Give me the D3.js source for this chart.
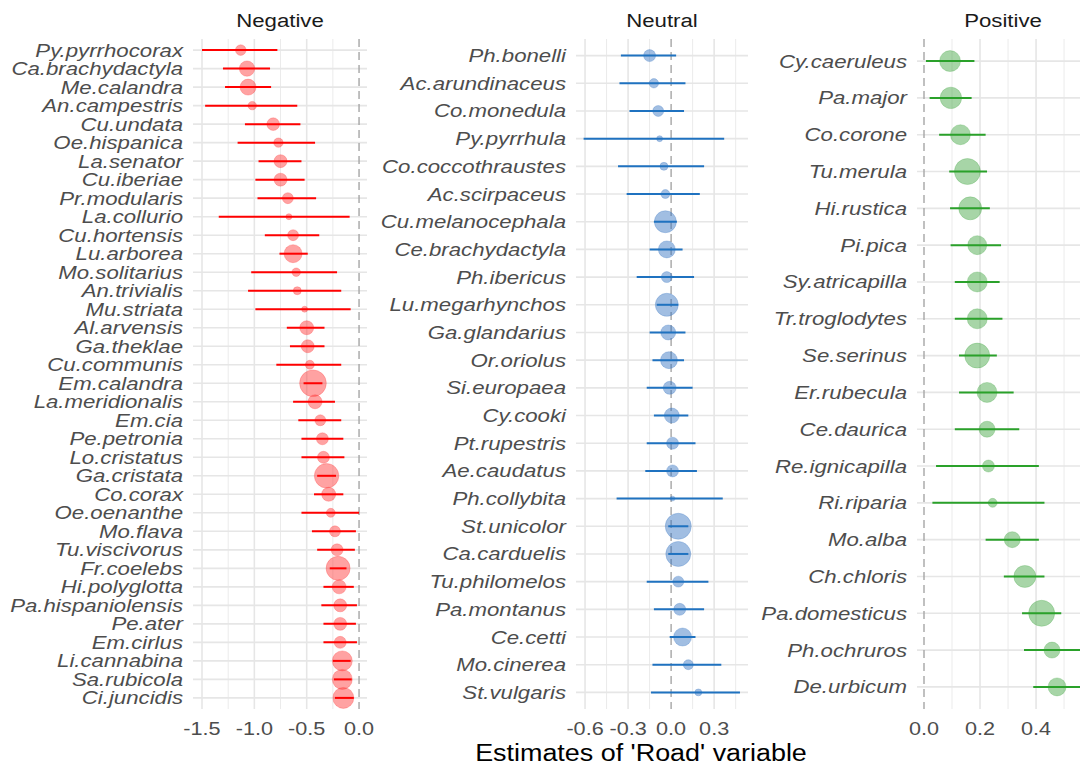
<!DOCTYPE html>
<html>
<head>
<meta charset="utf-8">
<script src="https://cdn.jsdelivr.net/npm/d3@7"></script>
<style>
  body { margin: 0; background: #fff; }
  text { font-family: "Liberation Sans", Arial, sans-serif; }
</style>
</head>
<body>
<div id="chart"></div>
<script>
// species in plotting order (top to bottom) with estimate, 95% interval and weight (point size)
var negSpecies = ["Py.pyrrhocorax","Ca.brachydactyla","Me.calandra","An.campestris","Cu.undata","Oe.hispanica",
  "La.senator","Cu.iberiae","Pr.modularis","La.collurio","Cu.hortensis","Lu.arborea","Mo.solitarius",
  "An.trivialis","Mu.striata","Al.arvensis","Ga.theklae","Cu.communis","Em.calandra","La.meridionalis",
  "Em.cia","Pe.petronia","Lo.cristatus","Ga.cristata","Co.corax","Oe.oenanthe","Mo.flava","Tu.viscivorus",
  "Fr.coelebs","Hi.polyglotta","Pa.hispaniolensis","Pe.ater","Em.cirlus","Li.cannabina","Sa.rubicola","Ci.juncidis"];
var negEst  = [-1.13,-1.07,-1.06,-1.02,-0.82,-0.77,-0.75,-0.75,-0.68,-0.67,-0.63,-0.63,-0.60,-0.59,-0.52,-0.50,-0.49,-0.47,
  -0.44,-0.42,-0.37,-0.35,-0.34,-0.31,-0.29,-0.27,-0.23,-0.21,-0.20,-0.19,-0.18,-0.18,-0.18,-0.16,-0.16,-0.15];
var negLow  = [-1.50,-1.30,-1.28,-1.47,-1.09,-1.16,-0.96,-0.99,-0.97,-1.34,-0.90,-0.76,-1.03,-1.06,-0.99,-0.69,-0.66,-0.79,
  -0.53,-0.63,-0.58,-0.55,-0.55,-0.40,-0.43,-0.55,-0.45,-0.40,-0.28,-0.34,-0.36,-0.34,-0.34,-0.25,-0.24,-0.23];
var negHigh = [-0.78,-0.85,-0.84,-0.59,-0.56,-0.42,-0.55,-0.52,-0.41,-0.09,-0.38,-0.49,-0.21,-0.17,-0.08,-0.33,-0.33,-0.17,
  -0.35,-0.23,-0.17,-0.15,-0.14,-0.22,-0.15,0.00,-0.03,-0.04,-0.12,-0.05,-0.02,-0.03,-0.02,-0.08,-0.07,-0.05];
var negSize = [28,59,64,18,40,22,42,42,30,9,30,81,18,16,9,49,42,20,178,49,30,36,36,150,49,20,30,36,144,49,42,42,36,100,100,110];

var neuSpecies = ["Ph.bonelli","Ac.arundinaceus","Co.monedula","Py.pyrrhula","Co.coccothraustes","Ac.scirpaceus",
  "Cu.melanocephala","Ce.brachydactyla","Ph.ibericus","Lu.megarhynchos","Ga.glandarius","Or.oriolus","Si.europaea",
  "Cy.cooki","Pt.rupestris","Ae.caudatus","Ph.collybita","St.unicolor","Ca.carduelis","Tu.philomelos","Pa.montanus",
  "Ce.cetti","Mo.cinerea","St.vulgaris"];
var neuEst  = [-0.15,-0.12,-0.09,-0.08,-0.05,-0.04,-0.04,-0.03,-0.03,-0.03,-0.02,-0.015,-0.01,0.005,0.01,0.01,0.01,
  0.05,0.05,0.05,0.06,0.08,0.12,0.19];
var neuLow  = [-0.35,-0.36,-0.29,-0.61,-0.37,-0.31,-0.12,-0.15,-0.24,-0.10,-0.15,-0.13,-0.17,-0.12,-0.17,-0.18,-0.38,
  -0.02,-0.02,-0.17,-0.12,-0.01,-0.13,-0.14];
var neuHigh = [0.035,0.10,0.09,0.37,0.23,0.20,0.04,0.08,0.16,0.05,0.10,0.09,0.15,0.12,0.17,0.18,0.36,
  0.12,0.12,0.26,0.23,0.17,0.35,0.48];
var neuSize = [36,22,30,9,16,20,121,72,30,132,56,72,42,56,36,36,6,169,156,30,36,81,25,12];

var posSpecies = ["Cy.caeruleus","Pa.major","Co.corone","Tu.merula","Hi.rustica","Pi.pica","Sy.atricapilla",
  "Tr.troglodytes","Se.serinus","Er.rubecula","Ce.daurica","Re.ignicapilla","Ri.riparia","Mo.alba","Ch.chloris",
  "Pa.domesticus","Ph.ochruros","De.urbicum"];
var posEst  = [0.093,0.096,0.13,0.155,0.165,0.19,0.19,0.19,0.19,0.225,0.225,0.23,0.245,0.315,0.36,0.42,0.457,0.475];
var posLow  = [0.007,0.02,0.054,0.09,0.093,0.095,0.11,0.11,0.125,0.125,0.11,0.043,0.03,0.22,0.285,0.35,0.357,0.39];
var posHigh = [0.18,0.17,0.22,0.225,0.235,0.275,0.27,0.28,0.26,0.32,0.34,0.41,0.43,0.41,0.43,0.49,0.58,0.60];
var posSize = [110,115,100,169,132,90,100,100,156,100,64,36,20,64,121,169,64,81];

var negTicks = [-1.5,-1.0,-0.5,0.0];
var neuTicks = [-0.6,-0.3,0.0,0.3];
var posTicks = [0.0,0.2,0.4];

var width = 1080, height = 769,
    panelTop = 39, panelBottom = 709,
    stretch = 1.17; // the figure text is a little wider than plain Arial

var panels = [
  {title: "Negative", species: negSpecies, est: negEst, low: negLow, high: negHigh, size: negSize,
   ticks: negTicks, domain: [-1.586, 0.076], x0: 193, x1: 367, line: "#ff0000", fill: "#ff3030"},
  {title: "Neutral", species: neuSpecies, est: neuEst, low: neuLow, high: neuHigh, size: neuSize,
   ticks: neuTicks, domain: [-0.663, 0.536], x0: 576, x1: 748, line: "#1f72c0", fill: "#2f6fbe"},
  {title: "Positive", species: posSpecies, est: posEst, low: posLow, high: posHigh, size: posSize,
   ticks: posTicks, domain: [-0.025, 0.589], x0: 917, x1: 1089, line: "#2aa12a", fill: "#3ba23b"}
];

var r = d3.scaleSqrt().domain([0, 169]).range([0, 13]);

var svg = d3.select("#chart").append("svg")
    .attr("width", width)
    .attr("height", height);

function addText(g, x, y, str) {
  return g.append("text")
    .attr("transform", "translate(" + x + "," + y + ") scale(" + stretch + ",1)")
    .text(str);
}

panels.forEach(function(p) {
  var x = d3.scaleLinear().domain(p.domain).range([p.x0, p.x1]);
  var y = d3.scalePoint().domain(p.species).range([panelTop, panelBottom]).padding(0.6);
  var g = svg.append("g");

  // minor vertical grid (half way between breaks)
  var step = p.ticks[1] - p.ticks[0];
  var minor = d3.range(p.ticks[0] - step * 1.5, p.domain[1], step)
    .filter(function(v) { return v > p.domain[0] && v < p.domain[1]; });
  g.selectAll(".minor").data(minor).enter().append("line")
    .attr("x1", function(d) { return x(d); }).attr("x2", function(d) { return x(d); })
    .attr("y1", panelTop).attr("y2", panelBottom)
    .attr("stroke", "#ebebeb").attr("stroke-width", 1);

  var major = d3.range(p.ticks[0] - step * 2, p.domain[1], step)
    .filter(function(v) { return v > p.domain[0] && v < p.domain[1] && Math.abs(v) > 1e-9; });
  g.selectAll(".major").data(major).enter().append("line")
    .attr("x1", function(d) { return x(d); }).attr("x2", function(d) { return x(d); })
    .attr("y1", panelTop).attr("y2", panelBottom)
    .attr("stroke", "#e6e6e6").attr("stroke-width", 1.6);

  // horizontal grid, one per species
  g.selectAll(".hgrid").data(p.species).enter().append("line")
    .attr("x1", p.x0).attr("x2", p.x1)
    .attr("y1", function(d) { return y(d); }).attr("y2", function(d) { return y(d); })
    .attr("stroke", "#e6e6e6").attr("stroke-width", 1.6);

  // zero reference
  g.append("line")
    .attr("x1", x(0)).attr("x2", x(0))
    .attr("y1", panelTop).attr("y2", panelBottom)
    .attr("stroke", "#a6a6a6").attr("stroke-width", 1.4)
    .attr("stroke-dasharray", "8,5");

  var rows = p.species.map(function(s, i) {
    return {name: s, est: p.est[i], low: p.low[i], high: p.high[i], size: p.size[i]};
  });

  g.selectAll(".pt").data(rows).enter().append("circle")
    .attr("cx", function(d) { return x(d.est); })
    .attr("cy", function(d) { return y(d.name); })
    .attr("r", function(d) { return r(d.size); })
    .attr("fill", p.fill).attr("fill-opacity", 0.45)
    .attr("stroke", p.fill).attr("stroke-opacity", 0.25).attr("stroke-width", 1);

  g.selectAll(".ci").data(rows).enter().append("line")
    .attr("x1", function(d) { return x(d.low); })
    .attr("x2", function(d) { return x(d.high); })
    .attr("y1", function(d) { return y(d.name); })
    .attr("y2", function(d) { return y(d.name); })
    .attr("stroke", p.line).attr("stroke-width", 2);

  // species labels
  p.species.forEach(function(s) {
    addText(g, p.x0 - 10, y(s) + 6.5, s)
      .attr("text-anchor", "end")
      .attr("font-size", 19)
      .attr("font-style", "italic")
      .attr("fill", "#4d4d4d");
  });

  // x tick labels
  p.ticks.forEach(function(t) {
    addText(g, x(t), 735, d3.format(".1f")(t).replace("−", "-"))
      .attr("text-anchor", "middle")
      .attr("font-size", 18.5)
      .attr("fill", "#4d4d4d");
  });

  // strip title
  addText(g, (p.x0 + p.x1) / 2, 27, p.title)
    .attr("text-anchor", "middle")
    .attr("font-size", 19)
    .attr("fill", "#1a1a1a");
});

addText(svg, 641, 761, "Estimates of 'Road' variable")
  .attr("text-anchor", "middle")
  .attr("font-size", 23)
  .attr("fill", "#000");
</script>
</body>
</html>
